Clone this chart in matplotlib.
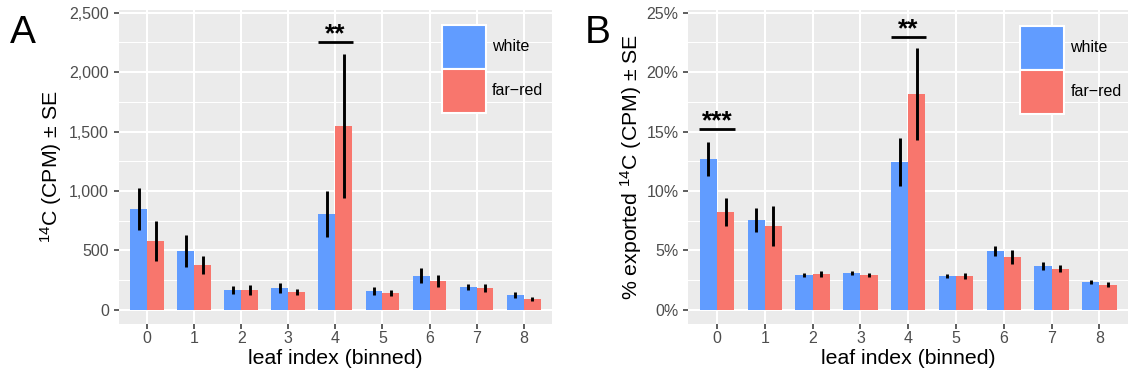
import numpy as np
import matplotlib
matplotlib.use("Agg")
import matplotlib.pyplot as plt
from matplotlib.patches import Patch
from matplotlib.ticker import MultipleLocator, FuncFormatter

plt.rcParams['font.family'] = ['Liberation Sans', 'DejaVu Sans']
plt.rcParams['mathtext.fontset'] = 'custom'
plt.rcParams['mathtext.rm'] = 'Liberation Sans'
plt.rcParams['mathtext.it'] = 'Liberation Sans:italic'

# leaf bins and treatments
bins = [0, 1, 2, 3, 4, 5, 6, 7, 8]
groups = ['white', 'far\u2212red']
colors = ['#619CFF', '#F8766D']

# 14C counts per minute, mean and standard error
cpm_white = [849, 496, 168, 185, 807, 160, 286, 193, 126]
cpm_white_se = [177, 133, 35, 44, 193, 31, 63, 28, 29]
cpm_farred = [580, 378, 168, 151, 1547, 143, 244, 185, 93]
cpm_farred_se = [168, 76, 39, 24, 608, 27, 48, 36, 16]

# share of exported 14C (%), mean and standard error
pct_white = [12.70, 7.57, 2.94, 3.11, 12.45, 2.86, 4.96, 3.70, 2.35]
pct_white_se = [1.40, 1.03, 0.20, 0.20, 2.00, 0.20, 0.43, 0.32, 0.18]
pct_farred = [8.24, 7.06, 3.03, 2.94, 18.17, 2.86, 4.46, 3.45, 2.10]
pct_farred_se = [1.20, 1.70, 0.24, 0.20, 3.87, 0.25, 0.62, 0.29, 0.21]

# significance brackets: (bin, height, label)
sig_cpm = [(4, 2256, '**')]
sig_pct = [(0, 15.2, '***'), (4, 22.96, '**')]

BAR_W = 0.36
GREY_TXT = '#4D4D4D'


def panel(ax, white, white_se, farred, farred_se, sigs, ylim, ystep, fmt, ylabel, leg_xy, ypad):
    x = np.arange(len(bins))
    ax.set_facecolor('#EBEBEB')
    for s in ax.spines.values():
        s.set_visible(False)

    for off, vals, se, c in [(-BAR_W / 2, white, white_se, colors[0]),
                             (BAR_W / 2, farred, farred_se, colors[1])]:
        vals = np.asarray(vals)
        se = np.asarray(se)
        ax.bar(x + off, vals, width=BAR_W, color=c, linewidth=0, zorder=2)
        lc = ax.vlines(x + off, vals - se, vals + se, colors='black', linewidth=2.1, zorder=3)
        lc.set_capstyle('butt')

    for b, h, lab in sigs:
        ax.plot([b - 0.37, b + 0.37], [h, h], color='black', linewidth=2.0,
                solid_capstyle='butt', zorder=4)
        ax.annotate(lab, (b, h), xytext=(0, 0.5), textcoords='offset points',
                    ha='center', va='baseline', fontsize=19, fontweight='bold', zorder=4)

    ax.set_xlim(-0.6, len(bins) - 0.4)
    ax.set_ylim(*ylim)
    ax.set_xticks(x)
    ax.set_xticklabels([str(b) for b in bins])
    ax.yaxis.set_major_locator(MultipleLocator(ystep))
    ax.yaxis.set_minor_locator(MultipleLocator(ystep / 2))
    ax.yaxis.set_major_formatter(FuncFormatter(fmt))

    ax.grid(which='major', color='white', linewidth=1.5, zorder=0)
    ax.grid(which='minor', axis='y', color='white', linewidth=0.75, zorder=0)
    ax.set_axisbelow(True)

    ax.tick_params(axis='both', which='major', length=3.6, width=1.1, color='#333333',
                   labelcolor=GREY_TXT, labelsize=11.5)
    ax.tick_params(axis='y', pad=3.6)
    ax.tick_params(axis='x', pad=1.5)
    ax.tick_params(which='minor', length=0)

    ax.set_xlabel('leaf index (binned)', fontsize=15.3, labelpad=2)
    ax.set_ylabel(ylabel, fontsize=15.3, labelpad=ypad)

    handles = [Patch(facecolor=c, edgecolor='white', linewidth=1.5, label=g)
               for g, c in zip(groups, colors)]
    ax.legend(handles=handles, loc='upper left', bbox_to_anchor=leg_xy,
              frameon=False, fontsize=11.5, handlelength=2.75, handleheight=3.85,
              labelspacing=0, handletextpad=0.4, borderpad=0, borderaxespad=0)


fig = plt.figure(figsize=(11.28, 3.78), dpi=100)
ax_a = fig.add_axes([0.1055, 0.1429, 0.3837, 0.8307])
ax_b = fig.add_axes([0.6103, 0.1429, 0.3897, 0.8307])

panel(ax_a, cpm_white, cpm_white_se, cpm_farred, cpm_farred_se, sig_cpm,
      (-118, 2522), 500, lambda v, _: f'{v:,.0f}',
      '$^{\\mathrm{14}}$C (CPM) \u00b1 SE', (0.7456, 0.952), 4)
panel(ax_b, pct_white, pct_white_se, pct_farred, pct_farred_se, sig_pct,
      (-1.18, 25.22), 5, lambda v, _: f'{v:.0f}%',
      '% exported $^{\\mathrm{14}}$C (CPM) \u00b1 SE', (0.7543, 0.949), 2)

fig.text(0.009, 0.886, 'A', fontsize=28, va='baseline')
fig.text(0.5186, 0.886, 'B', fontsize=28, va='baseline')

fig.savefig('out.png', dpi=100)
